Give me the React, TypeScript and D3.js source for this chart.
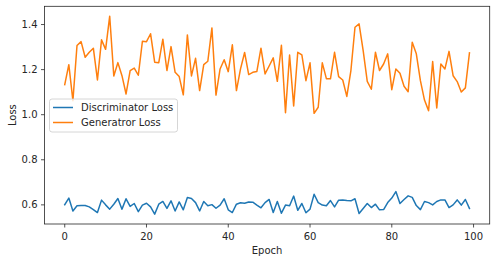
import React from "react";
import * as d3 from "d3";

const epochs: number[] = Array.from({ length: 100 }, (_, i) => i);

const discriminatorLoss: number[] = [
  0.601, 0.63, 0.573, 0.596, 0.597, 0.597, 0.591, 0.579, 0.566, 0.621,
  0.6, 0.581, 0.603, 0.628, 0.581, 0.627, 0.593, 0.606, 0.57, 0.599,
  0.607, 0.591, 0.559, 0.603, 0.615, 0.584, 0.618, 0.573, 0.613, 0.578,
  0.633, 0.628, 0.61, 0.573, 0.615, 0.596, 0.601, 0.585, 0.599, 0.627,
  0.578, 0.566, 0.603, 0.609, 0.607, 0.613, 0.612, 0.599, 0.587, 0.61,
  0.624, 0.566, 0.615, 0.563, 0.599, 0.596, 0.639, 0.576, 0.606, 0.565,
  0.581, 0.647, 0.61, 0.599, 0.596, 0.619, 0.591, 0.621, 0.622, 0.619,
  0.618, 0.627, 0.562, 0.584, 0.606, 0.588, 0.603, 0.578, 0.579, 0.61,
  0.63, 0.659, 0.606, 0.624, 0.64, 0.633, 0.597, 0.579, 0.615, 0.61,
  0.6, 0.615, 0.622, 0.622, 0.588, 0.6, 0.622, 0.599, 0.624, 0.584,
];

const generatorLoss: number[] = [
  1.133, 1.222, 1.062, 1.307, 1.324, 1.255, 1.277, 1.295, 1.154, 1.332,
  1.29, 1.437, 1.172, 1.231, 1.173, 1.092, 1.196, 1.207, 1.175, 1.326,
  1.324, 1.359, 1.233, 1.231, 1.335, 1.196, 1.302, 1.188, 1.169, 1.088,
  1.354, 1.172, 1.25, 1.107, 1.222, 1.237, 1.385, 1.087, 1.203, 1.244,
  1.191, 1.31, 1.107, 1.203, 1.276, 1.178, 1.188, 1.192, 1.295, 1.181,
  1.216, 1.252, 1.148, 1.308, 1.009, 1.265, 1.039, 1.277, 1.265, 1.151,
  1.23, 1.006, 1.033, 1.23, 1.16, 1.159, 1.277, 1.169, 1.154, 1.081,
  1.196, 1.388, 1.403, 1.284, 1.148, 1.113, 1.277, 1.196, 1.225, 1.27,
  1.111, 1.203, 1.184, 1.126, 1.102, 1.321, 1.27, 1.151, 1.065, 1.018,
  1.236, 1.03, 1.225, 1.203, 1.281, 1.173, 1.147, 1.101, 1.119, 1.274,
];

const seriesNames: string[] = ["Discriminator Loss", "Generatror Loss"];
const seriesColors: string[] = ["#1f77b4", "#ff7f0e"];
const xTicks: number[] = [0, 20, 40, 60, 80, 100];
const yTicks: number[] = [0.6, 0.8, 1.0, 1.2, 1.4];

const W = 497;
const H = 262;
const L = 44.5;
const R = 489.7;
const T = 6.3;
const B = 224;
const FONT = "DejaVu Sans, sans-serif";
const TXT = "#262626";

export default function App() {
  const xMin = d3.min(epochs)!;
  const xMax = d3.max(epochs)!;
  const xPad = (xMax - xMin) * 0.05;
  const x = d3.scaleLinear().domain([xMin - xPad, xMax + xPad]).range([L, R]);

  const allY = [...discriminatorLoss, ...generatorLoss];
  const yMin = d3.min(allY)!;
  const yMax = d3.max(allY)!;
  const yPad = (yMax - yMin) * 0.05;
  const y = d3.scaleLinear().domain([yMin - yPad, yMax + yPad]).range([B, T]);

  const line = d3
    .line<number>()
    .x((_, i) => x(epochs[i]))
    .y((d) => y(d));

  const series = [discriminatorLoss, generatorLoss];

  return (
    <svg
      width={W}
      height={H}
      style={{ position: "absolute", left: 0, top: 0, background: "#fff" }}
      fontFamily={FONT}
    >
      <rect x={0} y={0} width={W} height={H} fill="#fff" />
      <defs>
        <clipPath id="plotclip">
          <rect x={L} y={T} width={R - L} height={B - T} />
        </clipPath>
      </defs>
      <g clipPath="url(#plotclip)">
        {series.map((s, k) => (
          <path
            key={k}
            d={line(s) || ""}
            fill="none"
            stroke={seriesColors[k]}
            strokeWidth={1.5}
            strokeLinejoin="round"
            strokeLinecap="square"
          />
        ))}
      </g>
      {/* spines */}
      <rect x={L} y={T} width={R - L} height={B - T} fill="none" stroke="#262626" strokeWidth={0.8} />
      {/* x ticks */}
      {xTicks.map((t) => (
        <g key={"x" + t}>
          <line x1={x(t)} x2={x(t)} y1={B} y2={B + 3.5} stroke="#262626" strokeWidth={0.8} />
          <text x={x(t)} y={B + 16} textAnchor="middle" fontSize={10} fill={TXT}>
            {t}
          </text>
        </g>
      ))}
      {/* y ticks */}
      {yTicks.map((t) => (
        <g key={"y" + t}>
          <line x1={L - 3.5} x2={L} y1={y(t)} y2={y(t)} stroke="#262626" strokeWidth={0.8} />
          <text x={L - 7} y={y(t)} dy="0.35em" textAnchor="end" fontSize={10} fill={TXT}>
            {t.toFixed(1)}
          </text>
        </g>
      ))}
      <text x={(L + R) / 2} y={253.5} textAnchor="middle" fontSize={10} fill={TXT}>
        Epoch
      </text>
      <text
        transform={`translate(15.5, ${(T + B) / 2}) rotate(-90)`}
        textAnchor="middle"
        fontSize={10}
        fill={TXT}
      >
        Loss
      </text>
      {/* legend */}
      <g>
        <rect
          x={49.5}
          y={99}
          width={128}
          height={33}
          rx={2.5}
          fill="#fff"
          fillOpacity={0.8}
          stroke="#cccccc"
          strokeWidth={0.8}
        />
        {seriesNames.map((n, k) => (
          <g key={n}>
            <line
              x1={53}
              x2={73}
              y1={107.5 + k * 15}
              y2={107.5 + k * 15}
              stroke={seriesColors[k]}
              strokeWidth={1.5}
            />
            <text x={81} y={107.5 + k * 15} dy="0.35em" fontSize={10} fill={TXT}>
              {n}
            </text>
          </g>
        ))}
      </g>
    </svg>
  );
}
